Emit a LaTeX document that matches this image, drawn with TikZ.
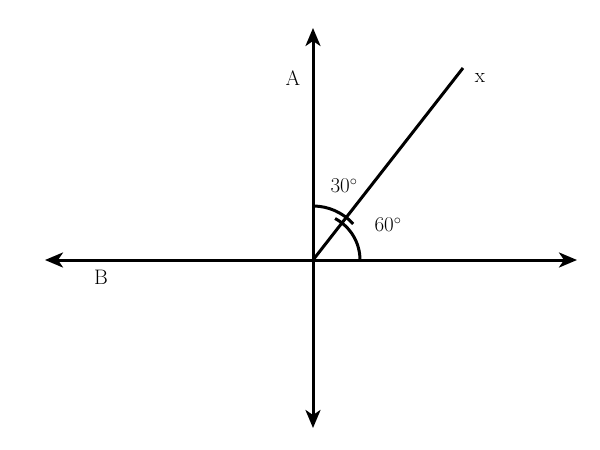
\documentclass[tikz,border=0pt]{standalone}
\usepackage{fontspec}
\usetikzlibrary{arrows.meta,calc}
\begin{document}
\begin{tikzpicture}[x=1pt,y=-1pt,
	axis/.style={line width=3pt, {Stealth[length=18pt,width=15pt,inset=5pt]}-{Stealth[length=18pt,width=15pt,inset=5pt]}},
	lbl/.style={font=\fontsize{21}{24}\selectfont}]
	\useasboundingbox (0,0) rectangle (600,450);
	\coordinate (O) at (313,260);
	\coordinate (top) at (313,28);
	\coordinate (bot) at (313,428);
	\coordinate (left) at (45,260);
	\coordinate (right) at (577,260);
	\coordinate (xend) at (463,68);
	\draw[axis] (bot) -- (top);
	\draw[axis] (left) -- (right);
	\draw[line width=3pt] (O) -- (xend);
	% angle arcs
	\draw[line width=3pt] ($(O)+(0,-54)$) arc[start angle=90,end angle=42,x radius=54,y radius=-54] coordinate (a30);
	\draw[line width=3pt] ($(O)+(47,0)$) arc[start angle=0,end angle=62,x radius=47,y radius=-47] coordinate (a60);
	\node[lbl] (A) at (293,78) {A};
	\node[lbl] (B) at (101,277) {B};
	\node[lbl] (x) at (480,78) {x};
	\node[lbl] (t30) at (344,186) {30$^\circ$};
	\node[lbl] (t60) at (388,225) {60$^\circ$};
\end{tikzpicture}
\end{document}
